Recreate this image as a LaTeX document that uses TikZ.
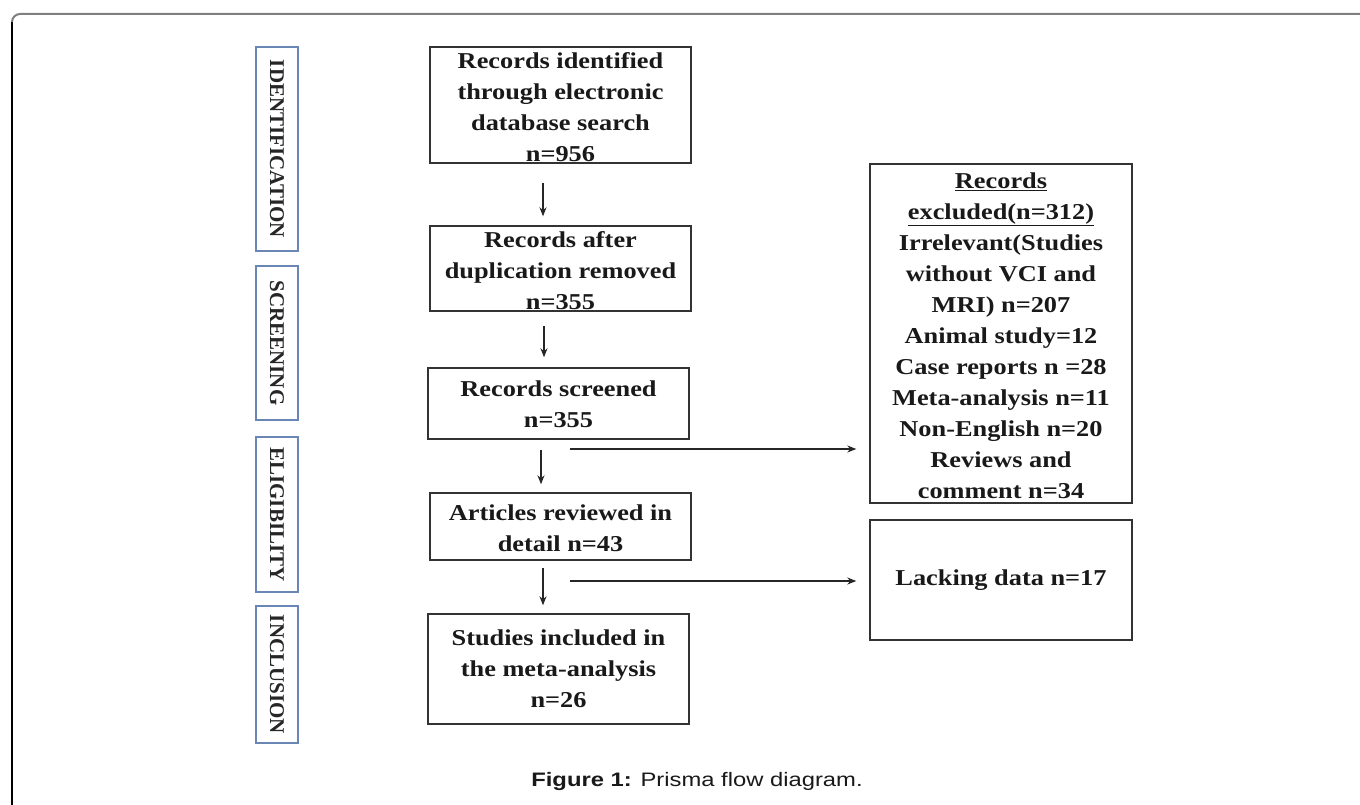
\documentclass[tikz,border=0pt]{standalone}
\usepackage{fontspec}
\setmainfont{Liberation Serif}
\newfontfamily\boxfont[FakeStretch=1.16]{Liberation Serif}
\newfontfamily\capfont[FakeStretch=1.22]{Liberation Sans}
\usetikzlibrary{arrows.meta,calc}
\definecolor{frameg}{HTML}{7F7F7F}
\definecolor{sideblue}{HTML}{6A86B5}
\definecolor{boxline}{HTML}{333333}
\tikzset{
  flowbox/.style={draw=boxline, line width=1.4pt, inner sep=0pt},
  flowtext/.style={align=center, font=\boxfont\bfseries\fontsize{22.7}{31}\selectfont, text=black!90, inner sep=0pt},
  sidebox/.style={draw=sideblue, line width=1.2pt, inner sep=0pt, rotate=-90, minimum height=42pt,
                  font=\bfseries\fontsize{21}{24}\selectfont, text=black!85},
  arr/.style={-{Stealth[length=9pt,width=7pt]}, line width=1.3pt, draw=black!85},
}
\begin{document}
\begin{tikzpicture}[x=1pt,y=-1pt]
\useasboundingbox (0,0) rectangle (1360,805);
% outer frame
\draw[frameg, line width=2pt] (1362,14) -- (20,14) arc[start angle=270, end angle=180, radius=8];
\draw[black, line width=1.5pt] (12,22) -- (12,807);

% side labels
\node[sidebox, minimum width=204pt] (s1) at (277,149) {IDENTIFICATION};
\node[sidebox, minimum width=154pt] (s2) at (277,343) {SCREENING};
\node[sidebox, minimum width=155pt] (s3) at (277,514.5) {ELIGIBILITY};
\node[sidebox, minimum width=137pt] (s4) at (277,674.5) {INCLUSION};

% main boxes
\node[flowbox, minimum width=261pt, minimum height=116pt] (b1) at (560.5,105) {};
\node[flowtext] (t1) at ([yshift=-2pt]b1.center) {Records identified\\through electronic\\database search\\n=956};
\node[flowbox, minimum width=261pt, minimum height=85pt] (b2) at (560.5,268.5) {};
\node[flowtext] (t2) at ([yshift=-2pt]b2.center) {Records after\\duplication removed\\n=355};
\node[flowbox, minimum width=261pt, minimum height=71pt] (b3) at (558.5,403.5) {};
\node[flowtext] (t3) at ([yshift=-1pt]b3.center) {Records screened\\n=355};
\node[flowbox, minimum width=261pt, minimum height=67pt] (b4) at (560.5,526.5) {};
\node[flowtext] (t4) at ([yshift=-2pt]b4.center) {Articles reviewed in\\detail n=43};
\node[flowbox, minimum width=261pt, minimum height=110pt] (b5) at (558.5,669) {};
\node[flowtext] (t5) at (b5.center) {Studies included in\\the meta-analysis\\n=26};

\node[flowbox, minimum width=262pt, minimum height=339pt] (ex) at (1001,333.5) {};
\node[flowtext] (tex) at ([yshift=-2pt]ex.center) {\underline{Records}\\\underline{excluded(n=312)}\\Irrelevant(Studies\\without VCI and\\MRI) n=207\\Animal study=12\\Case reports n =28\\Meta-analysis n=11\\Non-English n=20\\Reviews and\\comment n=34};
\node[flowbox, minimum width=262pt, minimum height=120pt] (lk) at (1001,580) {};
\node[flowtext] (tlk) at (lk.center) {Lacking data n=17};

% vertical arrows
\coordinate (a1) at (543,183);
\coordinate (a2) at (544,326);
\coordinate (a3) at (541,450);
\coordinate (a4) at (543,568);
\draw[arr] (a1) -- ($(a1 |- b2.north)+(0,-9)$);
\draw[arr] (a2) -- ($(a2 |- b3.north)+(0,-10)$);
\draw[arr] (a3) -- ($(a3 |- b4.north)+(0,-8)$);
\draw[arr] (a4) -- ($(a4 |- b5.north)+(0,-8)$);

% horizontal arrows
\coordinate (h1) at (570,449);
\coordinate (h2) at (570,581);
\draw[arr] (h1) -- ($(h1 -| ex.west)+(-13,0)$);
\draw[arr] (h2) -- ($(h2 -| lk.west)+(-13,0)$);

% caption
\node[font=\capfont\fontsize{19.5}{22}\selectfont, text=black!90, inner sep=0pt] (cap) at (697,781)
  {\textbf{Figure 1:} Prisma flow diagram.};
\end{tikzpicture}
\end{document}
